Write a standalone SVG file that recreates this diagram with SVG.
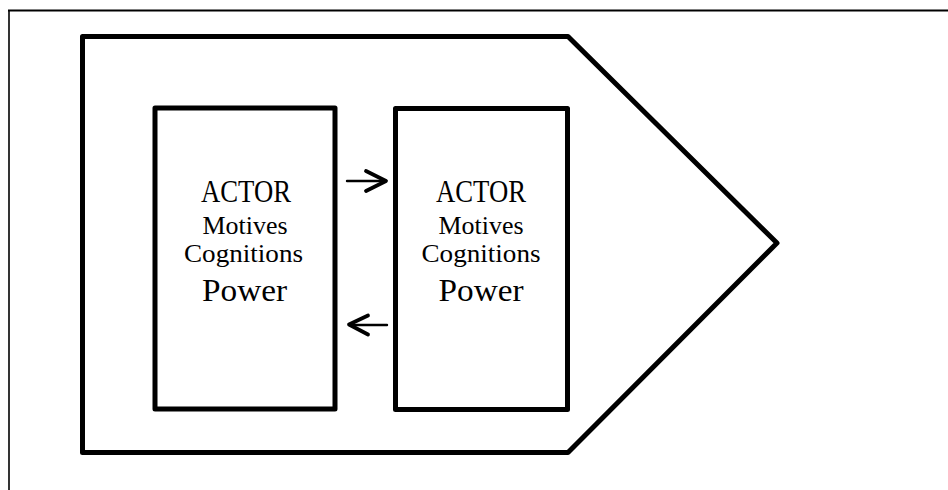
<svg xmlns="http://www.w3.org/2000/svg" width="948" height="490" viewBox="0 0 948 490">
  <defs>
    <style>
      .frame { fill: none; stroke: #000; }
      .box { fill: #fff; stroke: #000; stroke-width: 5; stroke-linejoin: round; }
      .big { font-family: "Liberation Serif", "Times New Roman", serif; font-size: 32px; fill: #000; }
      .small { font-family: "Liberation Serif", "Times New Roman", serif; font-size: 25px; fill: #000; }
      .shaft { fill: none; stroke: #000; stroke-width: 2.4; stroke-linecap: round; }
      .head { fill: none; stroke: #000; stroke-width: 3.8; stroke-linecap: round; stroke-linejoin: round; }
    </style>
  </defs>

  <rect width="948" height="490" fill="#fff"/>

  <!-- page frame: top and left rules only -->
  <g id="page-frame">
    <line class="frame" x1="8" y1="10.5" x2="948" y2="10.5" stroke-width="2.2"/>
    <line class="frame" x1="9" y1="10" x2="9" y2="490" stroke-width="1.6"/>
  </g>

  <!-- pentagon arrow enclosing both actors -->
  <g id="arena">
    <polygon class="frame" points="82.5,36.5 568,36.5 777,243 568,452.5 82.5,452.5" stroke-width="5" stroke-linejoin="round"/>
  </g>

  <g id="actor-left">
    <rect class="box" x="155" y="108" width="180" height="301"/>
    <text class="big" x="246" y="202" text-anchor="middle" textLength="90" lengthAdjust="spacingAndGlyphs">ACTOR</text>
    <text class="small" x="245" y="234" text-anchor="middle" textLength="85" lengthAdjust="spacingAndGlyphs">Motives</text>
    <text class="small" x="243.5" y="262" text-anchor="middle" textLength="119" lengthAdjust="spacingAndGlyphs">Cognitions</text>
    <text class="big" x="244.5" y="301" text-anchor="middle" textLength="85" lengthAdjust="spacingAndGlyphs">Power</text>
  </g>

  <g id="actor-right">
    <rect class="box" x="395.5" y="108.5" width="172" height="301"/>
    <text class="big" x="481" y="202" text-anchor="middle" textLength="90" lengthAdjust="spacingAndGlyphs">ACTOR</text>
    <text class="small" x="481" y="234" text-anchor="middle" textLength="85" lengthAdjust="spacingAndGlyphs">Motives</text>
    <text class="small" x="481" y="262" text-anchor="middle" textLength="119" lengthAdjust="spacingAndGlyphs">Cognitions</text>
    <text class="big" x="481" y="301" text-anchor="middle" textLength="85" lengthAdjust="spacingAndGlyphs">Power</text>
  </g>

  <!-- connectors between the actors -->
  <g id="connectors">
    <g id="left-to-right">
      <line class="shaft" x1="347" y1="181" x2="385" y2="181"/>
      <polyline class="head" points="366,171 386,181 366,191"/>
    </g>
    <g id="right-to-left">
      <line class="shaft" x1="387" y1="325" x2="350" y2="325"/>
      <polyline class="head" points="368,315.5 349,324.5 368,334.5"/>
    </g>
  </g>
</svg>
